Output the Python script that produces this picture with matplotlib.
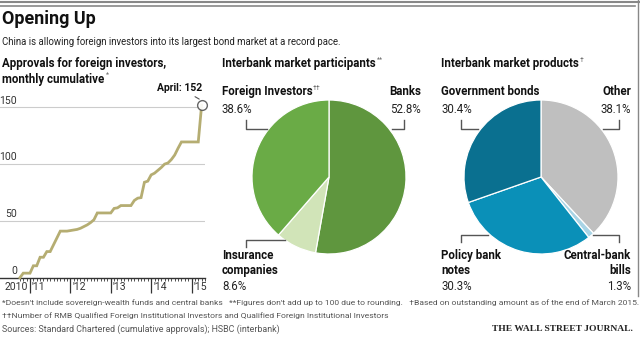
import matplotlib
matplotlib.use('Agg')
import matplotlib.pyplot as plt
import numpy as np

# ---- data ----
# cumulative approvals, monthly from Oct 2010 to Apr 2015
start_year, start_month = 2010, 10
approvals = [0, 4, 4, 4, 10.5, 10.5, 18, 18, 23, 23, 29, 35, 41, 41, 41,
             41.5, 42, 42.5, 43.5, 45, 46.5, 48.5, 51, 57, 57, 57, 57, 57,
             61, 61.5, 63.5, 63.5, 63.5, 63.5, 68, 70, 70.5, 84, 85,
             90.5, 92, 94.5, 97, 100, 101, 104, 108, 114, 119.5,
             119.5, 119.5, 119.5, 119.5, 119.5, 152]
year_ticks = [2011, 2012, 2013, 2014, 2015]
year_labels = ["'11", "'12", "'13", "'14", "'15"]
y_ticks = [0, 50, 100, 150]

part_labels = ['Banks', 'Insurance\ncompanies', 'Foreign Investors']
part_values = [52.8, 8.6, 38.6]
part_colors = ['#5f963e', '#d1e4b8', '#6aab46']

prod_labels = ['Other', 'Central-bank\nbills', 'Policy bank\nnotes', 'Government bonds']
prod_values = [38.1, 1.3, 30.3, 30.4]
prod_colors = ['#bfbfbf', '#a8d4e6', '#0a90b8', '#0a7090']

W, H = 640, 343
fig = plt.figure(figsize=(W/100, H/100), dpi=100)

NARROW = ['Liberation Sans Narrow', 'Roboto', 'DejaVu Sans']

def fx(x):
    return x / W

def fy(y):
    return 1 - y / H

def txt(x, y, s, size=7.5, bold=False, ha='left', va='center', color='#222222', family=NARROW):
    return fig.text(fx(x), fy(y), s, fontsize=size, ha=ha, va=va, color=color,
                    fontweight='bold' if bold else 'normal', family=family)

def line(xs, ys, color='#555555', lw=1.0):
    fig.add_artist(plt.Line2D([fx(v) for v in xs], [fy(v) for v in ys],
                              color=color, lw=lw, transform=fig.transFigure))

# frame lines
line([0, 640], [1.5, 1.5], color='#888888', lw=1.5)
line([0, 635], [6, 6], color='#888888', lw=1.2)
line([637.5, 637.5], [0, 296], color='#888888', lw=1.0)

# titles
txt(2, 19, 'Opening Up', size=13, bold=True, color='#111111')
txt(2, 42, 'China is allowing foreign investors into its largest bond market at a record pace.',
    size=6.9)

def sup_title(x, y, s, sup, size=8.3):
    t = txt(x, y, s, size=size, bold=True, color='#111111')
    fig.canvas.draw()
    bb = t.get_window_extent()
    fig.text(bb.x1 / fig.dpi / fig.get_figwidth() + 0.002, fy(y - 4), sup, fontsize=5,
             ha='left', va='center', color='#666666', family=NARROW)

txt(2, 63, 'Approvals for foreign investors,', size=8.3, bold=True, color='#111111')
sup_title(2, 79, 'monthly cumulative', '*')
sup_title(222, 64, 'Interbank market participants', '**')
sup_title(441, 64, 'Interbank market products', '\u2020')

# ---- line chart ----
px_per_year = 40.4
x_left = 2011 - 30 / px_per_year
x_right = 2011 + (205 - 30) / px_per_year
px_per_unit = (277.7 - 107.3) / 150
y_top = (277.7 - 95) / px_per_unit
ax = fig.add_axes([fx(0), fy(277.7), fx(205), (277.7 - 95) / H])
ax.set_xlim(x_left, x_right)
ax.set_ylim(0, y_top)
for s in ax.spines.values():
    s.set_visible(False)
ax.set_yticks([])
for v in y_ticks[1:]:
    ax.axhline(v, color='#cccccc', lw=0.8, zorder=1)
ax.axhline(0, color='#333333', lw=1.0, zorder=3, clip_on=False)
for v in y_ticks:
    ax.text(x_left + 17 / px_per_year, v + 1.5, str(v), ha='right', va='bottom',
            fontsize=7.5, color='#333333', family=NARROW)

xs = np.array([start_year + (start_month - 1 + i) / 12 for i in range(len(approvals))])
ax.plot(xs, approvals, color='#b5ad72', lw=2.0, zorder=4, clip_on=False, solid_joinstyle='miter')
ax.plot(xs[-1], approvals[-1], 'o', ms=7, mfc='white', mec='#555555', mew=1.0,
        zorder=5, clip_on=False, alpha=0.9)
ax.annotate('April: 152', xy=(xs[-1], approvals[-1] + 4), xytext=(xs[-1], approvals[-1] + 11),
            ha='right', va='bottom', fontsize=7.5, fontweight='bold', family=NARROW,
            color='#111111', annotation_clip=False,
            arrowprops=dict(arrowstyle='-', color='#555555', lw=0.8))

minor = [start_year + (start_month - 1 + i) / 12 for i in range(len(approvals) + 1)]
ax.set_xticks(year_ticks)
ax.set_xticklabels([])
ax.set_xticks(minor, minor=True)
ax.tick_params(axis='x', which='major', length=11, width=0.9, color='#333333')
ax.tick_params(axis='x', which='minor', length=2.5, width=0.6, color='#333333')
ax.text(year_ticks[0] - 2.5 / px_per_year, -8, '2010', ha='right', va='center',
        fontsize=7.5, color='#333333', family=NARROW)
for t, lab in zip(year_ticks, year_labels):
    ax.text(t + 2 / px_per_year, -8, lab, ha='left', va='center', fontsize=7.5,
            color='#333333', family=NARROW)

# ---- pies ----
def pie_axes(cx, cy, r=77):
    a = fig.add_axes([fx(cx - r), fy(cy + r), 2 * r / W, 2 * r / H])
    return a

ax1 = pie_axes(329, 177)
ax1.pie(part_values, colors=part_colors, startangle=90, counterclock=False,
        wedgeprops=dict(edgecolor='white', linewidth=0.9))
ax1.set_xlim(-1, 1)
ax1.set_ylim(-1, 1)

ax2 = pie_axes(541, 177)
ax2.pie(prod_values, colors=prod_colors, startangle=90, counterclock=False,
        wedgeprops=dict(edgecolor='white', linewidth=0.9))
ax2.set_xlim(-1, 1)
ax2.set_ylim(-1, 1)

# labels participants
txt(222, 92, part_labels[2], size=8.3, bold=True, color='#111111')
fig.text(fx(313), fy(88), '\u2020\u2020', fontsize=5, color='#666666', family=NARROW, va='center')
txt(222, 109, '%.1f%%' % part_values[2], size=8.3)
line([245.7, 245.7, 266.7], [120, 129, 129])
txt(421, 92, part_labels[0], size=8.3, bold=True, ha='right', color='#111111')
txt(421, 109, '%.1f%%' % part_values[0], size=8.3, ha='right')
line([404, 404, 391.7], [120, 129, 129])
txt(222, 263, part_labels[1], size=8.3, bold=True, color='#111111', va='center')
txt(222, 287, '%.1f%%' % part_values[1], size=8.3)
line([245.7, 245.7, 285], [247, 240, 240])

# labels products
txt(441, 92, prod_labels[3], size=8.3, bold=True, color='#111111')
txt(441, 109, '%.1f%%' % prod_values[3], size=8.3)
line([460.7, 460.7, 478], [120, 129, 129])
txt(631, 92, prod_labels[0], size=8.3, bold=True, ha='right', color='#111111')
txt(631, 109, '%.1f%%' % prod_values[0], size=8.3, ha='right')
line([619, 619, 603], [120, 129, 129])
txt(441, 263, prod_labels[2], size=8.3, bold=True, color='#111111')
txt(441, 287, '%.1f%%' % prod_values[2], size=8.3)
line([460.7, 460.7, 488], [242, 235, 235])
fig.text(fx(631), fy(263), prod_labels[1], fontsize=8.3, fontweight='bold', ha='right',
         va='center', color='#111111', family=NARROW, multialignment='right')
txt(631, 287, '%.1f%%' % prod_values[1], size=8.3, ha='right')
line([619, 619, 593], [242, 235, 235])

# footnotes
foot = '#555555'
txt(2, 303, "*Doesn't include sovereign-wealth funds and central banks   **Figures don't add up to 100 due to rounding.   "
    "\u2020Based on outstanding amount as of the end of March 2015.", size=6.1, color=foot)
txt(2, 316, '\u2020\u2020Number of RMB Qualified Foreign Institutional Investors and Qualified Foreign Institutional Investors',
    size=6.1, color=foot)
txt(2, 329, 'Sources: Standard Chartered (cumulative approvals); HSBC (interbank)', size=6.4, color=foot)
txt(633, 329, 'THE WALL STREET JOURNAL.', size=6.8, bold=True, ha='right', color='#222222',
    family=['Liberation Serif', 'DejaVu Serif'])

fig.savefig('out.png', dpi=100)
